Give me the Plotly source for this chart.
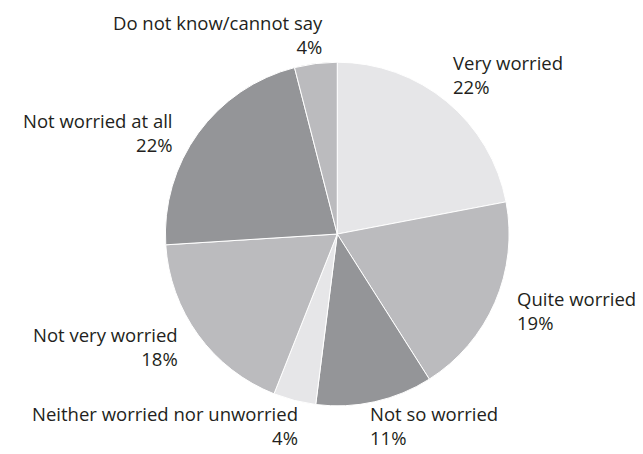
import plotly.graph_objects as go

# Share of respondents by level of worry (clockwise from 12 o'clock)
categories = [
    "Very worried",
    "Quite worried",
    "Not so worried",
    "Neither worried nor unworried",
    "Not very worried",
    "Not worried at all",
    "Do not know/cannot say",
]
shares = [22, 19, 11, 4, 18, 22, 4]

LIGHT, MID, DARK = "#e6e6e8", "#bbbbbe", "#949598"
slice_colors = [LIGHT, MID, DARK, LIGHT, MID, DARK, MID]

# Label placement in paper coordinates: (x, y, horizontal anchor)
label_pos = [
    (0.703, 0.836, "left"),
    (0.803, 0.316, "left"),
    (0.574, 0.062, "left"),
    (0.465, 0.062, "right"),
    (0.278, 0.236, "right"),
    (0.271, 0.708, "right"),
    (0.504, 0.924, "right"),
]

fig = go.Figure(
    go.Pie(
        labels=categories,
        values=shares,
        sort=False,
        direction="clockwise",
        rotation=0,
        marker=dict(colors=slice_colors, line=dict(color="white", width=1)),
        textinfo="none",
        hoverinfo="label+percent",
        domain=dict(x=[0.257, 0.792], y=[0.106, 0.863]),
        showlegend=False,
    )
)

for cat, val, (x, y, anchor) in zip(categories, shares, label_pos):
    fig.add_annotation(
        x=x, y=y, xref="paper", yref="paper",
        text=f"{cat}<br>{val}%",
        showarrow=False,
        xanchor=anchor, yanchor="middle", align=anchor,
        borderpad=0,
        font=dict(family="Open Sans", size=18.5, color="#231f20"),
    )

fig.update_layout(
    width=643, height=454,
    margin=dict(l=0, r=0, t=0, b=0),
    paper_bgcolor="white",
    plot_bgcolor="white",
)

fig.write_html("out.html")
